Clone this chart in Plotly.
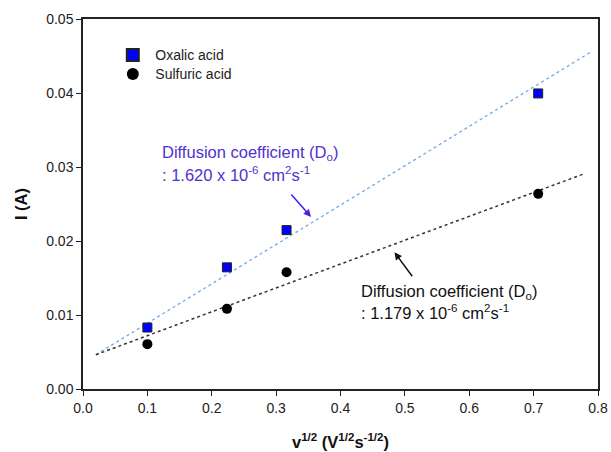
import plotly.graph_objects as go

# Square root of scan rate (V^1/2 s^-1/2)
scan_sqrt = [0.1, 0.2236, 0.3162, 0.7071]

# Peak currents (A)
oxalic_current = [0.00831, 0.01644, 0.02147, 0.03994]
sulfuric_current = [0.00606, 0.01083, 0.01577, 0.02637]

# Linear trend lines (start / end points)
oxalic_fit_x = [0.02, 0.79]
oxalic_fit_y = [0.00463, 0.0456]
sulfuric_fit_x = [0.02, 0.778]
sulfuric_fit_y = [0.00463, 0.02907]

x_ticks = [0.0, 0.1, 0.2, 0.3, 0.4, 0.5, 0.6, 0.7, 0.8]
y_ticks = [0.00, 0.01, 0.02, 0.03, 0.04, 0.05]

FONT = "Liberation Sans, Arial, sans-serif"
BLUE_TEXT = "#5131cf"
BLUE_ARROW = "#4b1de8"
LABEL_SIZE = 16.5

fig = go.Figure()

fig.add_trace(go.Scatter(
    x=oxalic_fit_x, y=oxalic_fit_y, mode="lines",
    line=dict(color="#72a8e8", width=1.3, dash="dot"),
    showlegend=False, hoverinfo="skip"))
fig.add_trace(go.Scatter(
    x=sulfuric_fit_x, y=sulfuric_fit_y, mode="lines",
    line=dict(color="#333333", width=1.5, dash="dot"),
    showlegend=False, hoverinfo="skip"))

fig.add_trace(go.Scatter(
    x=scan_sqrt, y=oxalic_current, mode="markers",
    name='<span style="font-size:14px">Oxalic acid</span>',
    marker=dict(symbol="square", size=9, color="#0000ff",
                line=dict(color="#222222", width=1))))
fig.add_trace(go.Scatter(
    x=scan_sqrt, y=sulfuric_current, mode="markers",
    name='<span style="font-size:14px">Sulfuric acid</span>',
    marker=dict(symbol="circle", size=10, color="#000000",
                line=dict(color="#000000", width=0))))

annotations = [
    # Oxalic acid label
    dict(x=0.1199, y=0.0319, xref="x", yref="y", xanchor="left", yanchor="middle",
         text="Diffusion coefficient (D<sub>o</sub>)", showarrow=False,
         font=dict(family=FONT, size=LABEL_SIZE, color=BLUE_TEXT)),
    dict(x=0.1199, y=0.02905, xref="x", yref="y", xanchor="left", yanchor="middle",
         text=": 1.620 x 10<sup>-6</sup> cm<sup>2</sup>s<sup>-1</sup>", showarrow=False,
         font=dict(family=FONT, size=LABEL_SIZE, color=BLUE_TEXT)),
    dict(x=0.3542, y=0.02324, ax=0.3216, ay=0.02649, xref="x", yref="y",
         axref="x", ayref="y", text="", showarrow=True, arrowhead=2,
         arrowsize=1, arrowwidth=1.5, arrowcolor=BLUE_ARROW),
    # Sulfuric acid label
    dict(x=0.4281, y=0.01315, xref="x", yref="y", xanchor="left", yanchor="middle",
         text="Diffusion coefficient (D<sub>o</sub>)", showarrow=False,
         font=dict(family=FONT, size=LABEL_SIZE, color="#111111")),
    dict(x=0.4281, y=0.01036, xref="x", yref="y", xanchor="left", yanchor="middle",
         text=": 1.179 x 10<sup>-6</sup> cm<sup>2</sup>s<sup>-1</sup>", showarrow=False,
         font=dict(family=FONT, size=LABEL_SIZE, color="#111111")),
    dict(x=0.4839, y=0.01847, ax=0.5131, ay=0.01504, xref="x", yref="y",
         axref="x", ayref="y", text="", showarrow=True, arrowhead=2,
         arrowsize=1, arrowwidth=1.5, arrowcolor="#111111"),
]

axis_common = dict(
    showgrid=False, zeroline=False, showline=True, linecolor="#222222",
    linewidth=1.5, mirror=True, ticks="outside", ticklen=5, tickwidth=1.2,
    tickcolor="#222222", tickfont=dict(family=FONT, size=14, color="#222222"),
    automargin=False,
)

fig.update_layout(
    width=611, height=452,
    margin=dict(l=83, r=13, t=19, b=63),
    paper_bgcolor="white", plot_bgcolor="white",
    font=dict(family=FONT, color="#222222"),
    xaxis=dict(range=[0, 0.8], tickvals=x_ticks,
               ticktext=[f"{v:.1f}" for v in x_ticks],
               title=dict(text="<b>v<sup>1/2</sup> (V<sup>1/2</sup>s<sup>-1/2</sup>)</b>",
                          font=dict(family=FONT, size=16.5, color="#111111"),
                          standoff=22),
               **axis_common),
    yaxis=dict(range=[0, 0.05], tickvals=y_ticks,
               ticktext=[f"{v:.2f}" for v in y_ticks],
               title=dict(text="<b>I (A)</b>",
                          font=dict(family=FONT, size=16.5, color="#111111"),
                          standoff=14),
               **axis_common),
    legend=dict(x=0.053, y=0.942, xanchor="left", yanchor="top",
                bgcolor="rgba(0,0,0,0)", borderwidth=0,
                font=dict(family=FONT, size=12, color="#222222"),
                itemsizing="constant", itemwidth=35, tracegroupgap=0),
    annotations=annotations,
    showlegend=True,
)

fig.write_html("out.html")
